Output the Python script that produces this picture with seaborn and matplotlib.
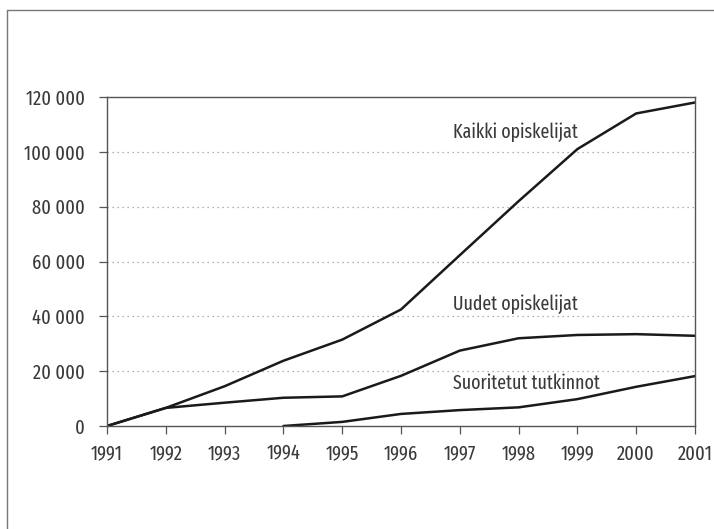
import matplotlib
matplotlib.use("Agg")
import matplotlib.pyplot as plt
from matplotlib.lines import Line2D
from matplotlib.ticker import FuncFormatter
import numpy as np
import pandas as pd
import seaborn as sns

years = [1991, 1992, 1993, 1994, 1995, 1996, 1997, 1998, 1999, 2000, 2001]
kaikki = [0, 6600, 14500, 23800, 31500, 42500, 62300, 82000, 101000, 114000, 118000]
uudet = [0, 6600, 8500, 10300, 10800, 18300, 27500, 32000, 33200, 33500, 32900]
suoritetut = [np.nan, np.nan, np.nan, 0, 1500, 4400, 5800, 6800, 9800, 14300, 18200]
series_names = ["Kaikki opiskelijat", "Uudet opiskelijat", "Suoritetut tutkinnot"]
label_pos = [(1996.88, 107000), (1996.88, 44500), (1996.88, 15500)]

sns.set_theme(style="white")
plt.rcParams['font.family'] = ['Fira Sans Extra Condensed', 'DejaVu Sans']

df = pd.DataFrame({
    "year": years * 3,
    "value": kaikki + uudet + suoritetut,
    "series": [series_names[0]] * 11 + [series_names[1]] * 11 + [series_names[2]] * 11,
})

fig = plt.figure(figsize=(7.14, 5.29), dpi=100)
ax = fig.add_axes([107 / 714, 1 - 426 / 529, (695 - 107) / 714, (426 - 97) / 529])

sns.lineplot(data=df, x="year", y="value", units="series", estimator=None,
             color="#1a1a1a", linewidth=1.8, ax=ax, legend=False)

ax.set_xlim(1991, 2001)
ax.set_ylim(0, 120000)
ax.set_xticks(years)
ax.set_yticks(range(0, 120001, 20000))
ax.yaxis.set_major_formatter(FuncFormatter(lambda v, p: f"{int(v):,}".replace(",", " ")))
ax.set_xlabel("")
ax.set_ylabel("")

for s in ax.spines.values():
    s.set_color("#555555")
    s.set_linewidth(1.0)

ax.tick_params(axis="both", which="major", direction="out", length=6, width=0.9,
               color="#555555", labelsize=14.5, labelcolor="#3a3a3a",
               bottom=True, left=True)
ax.tick_params(axis="y", pad=10)
ax.tick_params(axis="x", pad=7)
for y in range(20000, 100001, 20000):
    ax.axhline(y, color="#999999", linewidth=0.9, linestyle=(0, (1, 3)), zorder=0)

for name, (lx, ly) in zip(series_names, label_pos):
    ax.text(lx, ly, name, fontsize=14, color="#3a3a3a", ha="left", va="center")

fig.add_artist(Line2D([7 / 714, 7 / 714], [0, 1 - 10 / 529], transform=fig.transFigure,
                      color="#777777", linewidth=1.0))
fig.add_artist(Line2D([7 / 714, 1], [1 - 10 / 529, 1 - 10 / 529], transform=fig.transFigure,
                      color="#777777", linewidth=1.0))

fig.savefig("out.png", dpi=100)
